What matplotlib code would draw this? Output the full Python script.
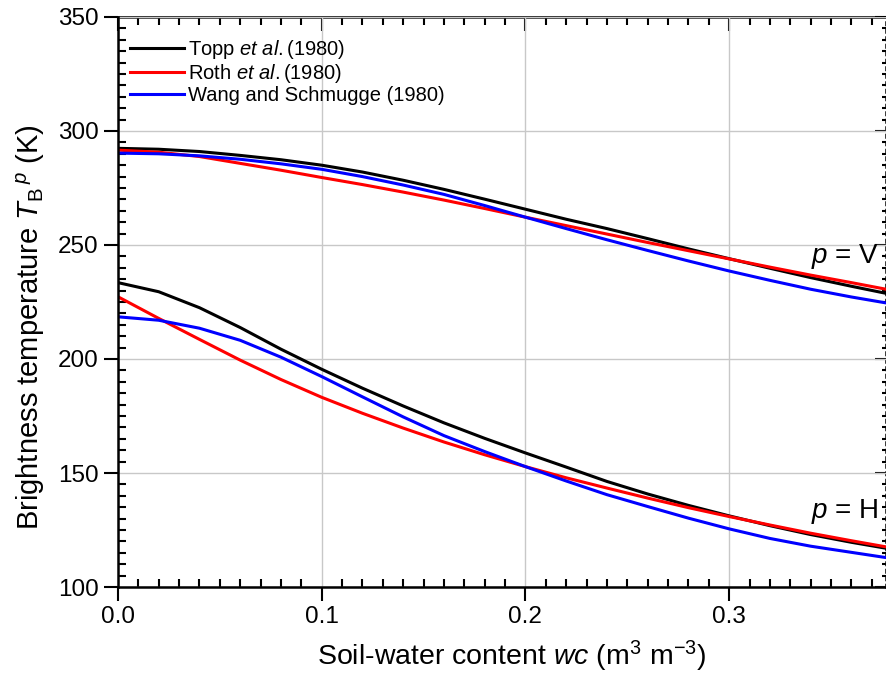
import numpy as np
import matplotlib
matplotlib.use("Agg")
import matplotlib.pyplot as plt
from matplotlib.ticker import MultipleLocator

plt.rcParams["font.family"] = ["Liberation Sans", "DejaVu Sans"]
plt.rcParams["mathtext.fontset"] = "custom"
plt.rcParams["mathtext.rm"] = "Liberation Sans"
plt.rcParams["mathtext.it"] = "Liberation Sans:italic"

# soil-water content (m3 m-3)
wc = [0.00, 0.02, 0.04, 0.06, 0.08, 0.10, 0.12, 0.14, 0.16, 0.18,
      0.20, 0.22, 0.24, 0.26, 0.28, 0.30, 0.32, 0.34, 0.36, 0.377]

# V polarisation (K)
topp_v = [292.4, 292.0, 291.0, 289.3, 287.4, 285.0, 282.0, 278.4, 274.4, 270.1,
          265.7, 261.3, 257.2, 252.8, 248.3, 244.0, 239.8, 235.7, 231.9, 228.8]
roth_v = [291.6, 290.7, 288.8, 285.8, 282.8, 279.6, 276.5, 273.2, 269.7, 266.0,
          262.2, 258.5, 254.8, 251.1, 247.5, 243.9, 240.3, 236.8, 233.5, 230.6]
wang_v = [290.3, 290.0, 289.1, 287.6, 285.6, 283.2, 280.0, 276.3, 272.2, 267.3,
          262.2, 257.2, 252.3, 247.6, 243.0, 238.6, 234.5, 230.6, 227.2, 224.6]

# H polarisation (K)
topp_h = [233.5, 229.5, 222.5, 213.8, 204.3, 195.5, 187.2, 179.4, 172.0, 165.2,
          158.8, 152.6, 146.3, 140.8, 135.8, 131.2, 126.9, 123.0, 119.6, 117.0]
roth_h = [227.3, 217.8, 208.6, 199.5, 191.0, 183.2, 176.2, 169.7, 163.6, 158.0,
          152.8, 147.9, 143.4, 139.0, 134.8, 130.9, 127.2, 123.6, 120.3, 117.6]
wang_h = [218.5, 217.0, 213.5, 208.2, 200.8, 192.3, 183.4, 174.6, 166.4, 159.4,
          152.8, 146.5, 140.5, 135.3, 130.2, 125.5, 121.3, 117.9, 115.2, 112.9]

fig = plt.figure(figsize=(8.87, 6.88), dpi=100)
ax = fig.add_axes([0.133, 0.1468, 0.8659, 0.8285])

lw = 2.2
ax.plot(wc, topp_v, color="black", lw=lw, label="Topp $\\it{et\\ al.}$(1980)")
ax.plot(wc, roth_v, color="red", lw=lw, label="Roth $\\it{et\\ al.}$(1980)")
ax.plot(wc, wang_v, color="blue", lw=lw, label="Wang and Schmugge (1980)")
ax.plot(wc, topp_h, color="black", lw=lw)
ax.plot(wc, roth_h, color="red", lw=lw)
ax.plot(wc, wang_h, color="blue", lw=lw)

ax.set_xlim(0, 0.377)
ax.set_ylim(100, 350)
ax.xaxis.set_major_locator(MultipleLocator(0.1))
ax.xaxis.set_minor_locator(MultipleLocator(0.01))
ax.yaxis.set_major_locator(MultipleLocator(50))
ax.yaxis.set_minor_locator(MultipleLocator(5))
ax.set_xticks([0.0, 0.1, 0.2, 0.3])
ax.set_xticklabels(["0.0", "0.1", "0.2", "0.3"])
ax.grid(True, which="major", color="#c8c8c8", lw=1.0)

ax.tick_params(which="major", direction="out", length=10, width=1.5, labelsize=17.5, pad=4)
ax.tick_params(which="minor", direction="in", length=6, width=1.5)
ax.tick_params(top=False, right=False)
for s in ["left", "bottom"]:
    ax.spines[s].set_linewidth(1.8)
ax.spines["top"].set_visible(False)
ax.spines["right"].set_visible(False)

top = ax.secondary_xaxis("top")
top.xaxis.set_major_locator(MultipleLocator(0.1))
top.xaxis.set_minor_locator(MultipleLocator(0.01))
top.tick_params(which="major", direction="in", length=10, width=1.5, labeltop=False)
top.tick_params(which="minor", direction="in", length=6, width=1.5)
top.spines["top"].set_linewidth(1.8)

right = ax.secondary_yaxis("right")
right.yaxis.set_major_locator(MultipleLocator(50))
right.yaxis.set_minor_locator(MultipleLocator(5))
right.tick_params(which="major", direction="in", length=8, width=1.5, labelright=False)
right.tick_params(which="minor", direction="in", length=3, width=1.5)
right.spines["right"].set_linestyle((0, (1, 2)))
right.spines["right"].set_linewidth(1.8)

ax.set_xlabel("Soil-water content $wc$ (m$^{3}$ m$^{-3}$)", fontsize=20.5)
ax.set_ylabel("Brightness temperature $T_{\\mathrm{B}}{}^{\\,p}$ (K)", fontsize=21)
ax.xaxis.set_label_coords(0.513, -0.09)
ax.yaxis.set_label_coords(-0.093, 0.455)

ax.text(0.3735, 245, "$p$ = V", fontsize=20, ha="right", va="center")
ax.text(0.3735, 133, "$p$ = H", fontsize=20, ha="right", va="center")

ax.legend(loc="upper left", frameon=False, fontsize=14.5, handlelength=2.7,
          borderaxespad=0.2, labelspacing=0.05, handletextpad=0.2,
          bbox_to_anchor=(0.0, 0.985))

fig.savefig("out.png", dpi=100)
